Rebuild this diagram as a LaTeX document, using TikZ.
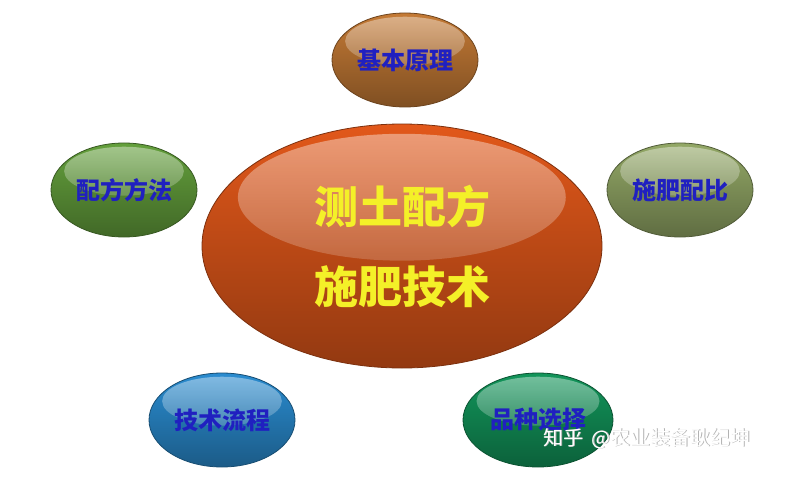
\documentclass[tikz,border=0pt]{standalone}
\usepackage{fontspec}
\newfontfamily\cjk{Noto Sans CJK SC}
\usetikzlibrary{shapes.geometric,calc,fadings}

\definecolor{coreorange}{HTML}{E2581A}
\definecolor{coreyellow}{HTML}{F4F028}
\definecolor{basisbrown}{HTML}{C47A35}
\definecolor{methodgreen}{HTML}{64A03C}
\definecolor{ratioolive}{HTML}{93A866}
\definecolor{flowblue}{HTML}{2A8CD0}
\definecolor{varietygreen}{HTML}{12955A}
\definecolor{labelblue}{HTML}{2020C0}

\tikzset{
  bubble/.style={ellipse, inner sep=0pt, draw=#1!55!black, line width=0.8pt,
    top color=#1, bottom color=#1!65!black,
    path picture={\fill[white, path fading=south, fill opacity=0.42]
      let \p1=(path picture bounding box.north east),
          \p2=(path picture bounding box.center)
      in ([yshift={0.4*(\y1-\y2)}]\p2) ellipse ({0.82*(\x1-\x2)} and {0.52*(\y1-\y2)});}},
  sat/.style={bubble=#1, minimum width=146pt, minimum height=94pt,
    text=labelblue, font=\cjk\bfseries\fontsize{24}{24}\selectfont},
  corebubble/.style={bubble=coreorange, minimum width=400pt, minimum height=244pt,
    text=coreyellow, align=center, font=\cjk\bfseries\fontsize{44}{80}\selectfont},
  stamp/.style={anchor=west, font=\cjk\fontsize{20}{20}\selectfont}
}

\begin{document}
\begin{tikzpicture}[x=1pt,y=1pt]
  \fill[white] (0,0) rectangle (800,480);
  \useasboundingbox (0,0) rectangle (800,480);

  \draw
    (402,234) node[corebubble] (core) {测土配方\\施肥技术}
    (405,420) node[sat=basisbrown] (basis) {基本原理}
    (124,290) node[sat=methodgreen] (method) {配方方法}
    (680,290) node[sat=ratioolive] (ratio) {施肥配比}
    (222,60) node[sat=flowblue] (flow) {技术流程}
    (538,60) node[sat=varietygreen, minimum width=150pt] (variety) {品种选择};

  % watermark
  \node[stamp, text=gray!60] (zhihushade) at (541,40.8) {知乎\hspace{8pt}@农业装备耿纪坤};
  \node[stamp, text=white] (zhihu) at (540,41.6) {知乎\hspace{8pt}@农业装备耿纪坤};
\end{tikzpicture}
\end{document}
